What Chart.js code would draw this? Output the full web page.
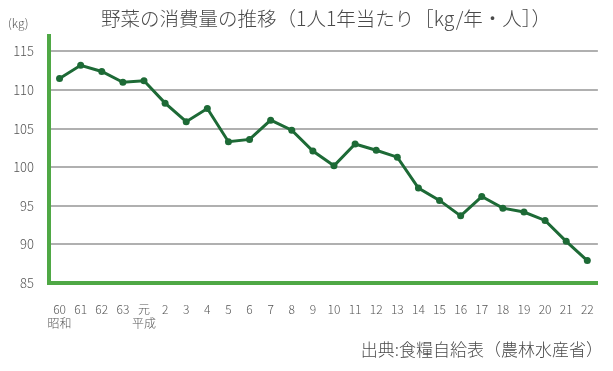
<!DOCTYPE html>
<html><head><meta charset="utf-8">
<script src="https://cdn.jsdelivr.net/npm/chart.js@4/dist/chart.umd.min.js"></script>
<style>html,body{margin:0;padding:0;background:#fff;}#wrap{width:613px;height:371px;}</style>
</head><body><div id="wrap"><canvas id="c" width="613" height="371"></canvas></div>
<script>
const tickLabels = ["60","61","62","63","元","2","3","4","5","6","7","8","9","10","11","12","13","14","15","16","17","18","19","20","21","22"];
const eraLabels = {"60":"昭和","元":"平成"};
const consumption = [111.5,113.2,112.4,111.0,111.2,108.3,105.9,107.6,103.3,103.6,106.1,104.8,102.1,100.2,103.0,102.2,101.3,97.3,95.7,93.7,96.2,94.7,94.2,93.1,90.4,87.9];
const yTicks = [85,90,95,100,105,110,115];
const titleText = "野菜の消費量の推移（1人1年当たり［kg/年・人］）";
const unitText = "(kg)";
const sourceText = "出典:食糧自給表（農林水産省）";

const FONT = "'Noto Sans CJK JP','Noto Sans',sans-serif";
const labels = tickLabels.map(l => eraLabels[l] ? [l, eraLabels[l]] : l);

const textPlugin = {
  id: 'texts',
  afterDraw(chart) {
    const ctx = chart.ctx;
    ctx.save();
    ctx.textBaseline = 'middle';
    ctx.fillStyle = '#4a4a4a';
    ctx.font = "300 19.5px " + FONT;
    ctx.textAlign = 'left';
    ctx.fillText(titleText, 101, 19);
    ctx.font = "300 12px " + FONT;
    ctx.fillStyle = '#555';
    ctx.fillText(unitText, 8, 23);
    ctx.font = "300 17px " + FONT;
    ctx.fillStyle = '#4a4a4a';
    ctx.textAlign = 'right';
    ctx.fillText(sourceText, 603, 350);
    ctx.restore();
  }
};

new Chart(document.getElementById('c'), {
  type: 'line',
  data: {
    labels: labels,
    datasets: [{
      data: consumption,
      borderColor: '#1d6a36',
      backgroundColor: '#1d6a36',
      borderWidth: 3,
      pointRadius: 3.5,
      pointHoverRadius: 3.5,
      pointBackgroundColor: '#1d6a36',
      pointBorderWidth: 0,
      tension: 0,
      fill: false
    }]
  },
  options: {
    responsive: false,
    animation: false,
    devicePixelRatio: 1,
    layout: { padding: { top: 36, right: 14, left: 0, bottom: 0 } },
    plugins: { legend: { display: false }, tooltip: { enabled: false }, title: { display: false } },
    scales: {
      x: {
        type: 'category',
        offset: true,
        grid: { display: false, drawTicks: false },
        border: { display: true, color: '#4fa845', width: 4 },
        ticks: {
          color: '#555', font: { family: FONT, size: 12, weight: '300' }, padding: 19,
          maxRotation: 0, autoSkip: false
        },
        afterFit(scale) { scale.height = 88; }
      },
      y: {
        min: 85, max: 117,
        afterBuildTicks(scale) { scale.ticks = yTicks.map(v => ({ value: v })); },
        grid: { color: '#b0b0b0', lineWidth: 2, drawTicks: false },
        border: { display: true, color: '#4fa845', width: 4 },
        ticks: { color: '#555', font: { family: FONT, size: 13, weight: '300' }, padding: 15 },
        afterFit(scale) { scale.width = 49; }
      }
    }
  },
  plugins: [textPlugin]
});
</script></body></html>
